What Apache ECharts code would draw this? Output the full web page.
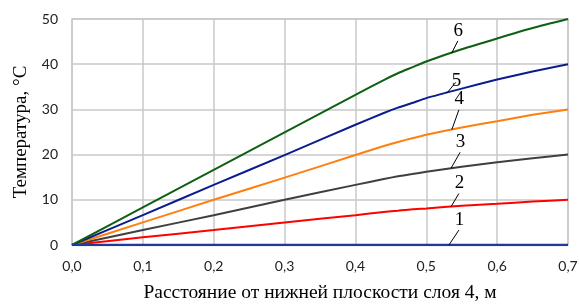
<!DOCTYPE html>
<html>
<head>
<meta charset="utf-8">
<script src="https://cdn.jsdelivr.net/npm/echarts@6/dist/echarts.min.js"></script>
<style>
  html, body { margin: 0; padding: 0; background: #fff; }
  #chart { width: 579px; height: 304px; }
</style>
</head>
<body>
<div id="chart"></div>
<script>
// distance from lower plane of layer 4, m
const xs = [0, 0.1, 0.2, 0.3, 0.4, 0.44, 0.46, 0.48, 0.5, 0.55, 0.6, 0.65, 0.7];
const curve1 = [0, 0, 0, 0, 0, 0, 0, 0, 0, 0, 0, 0, 0];
const curve2 = [0, 1.7, 3.3, 5.0, 6.6, 7.3, 7.6, 7.9, 8.1, 8.7, 9.1, 9.6, 10];
const curve3 = [0, 3.3, 6.6, 10.0, 13.3, 14.6, 15.2, 15.7, 16.2, 17.3, 18.3, 19.2, 20];
const curve4 = [0, 5.0, 10.0, 14.9, 19.9, 21.9, 22.8, 23.6, 24.4, 26.0, 27.4, 28.8, 30];
const curve5 = [0, 6.6, 13.3, 19.9, 26.6, 29.2, 30.4, 31.4, 32.5, 34.6, 36.6, 38.4, 40];
const curve6 = [0, 8.3, 16.6, 24.9, 33.2, 36.5, 38.0, 39.3, 40.6, 43.3, 45.7, 48.0, 50];
const names = ['1', '2', '3', '4', '5', '6'];
const colors = ['#1f3a9a', '#ff0000', '#3f3f3f', '#ff7f0e', '#0b1c8c', '#0f5f12'];
// leader start (on curve) for each number label
const tipX = [0.532, 0.535, 0.535, 0.536, 0.529, 0.536];
const tipY = [0, 8.5, 17.0, 25.5, 33.6, 42.5];

const curves = [curve1, curve2, curve3, curve4, curve5, curve6];
const leaderDx = [0.014, 0.011, 0.0127, 0.010, 0.0127, 0.0085];
const leaderDy = [3.3, 2.9, 3.5, 4.4, 2.4, 2.65];

const chart = echarts.init(document.getElementById('chart'));
chart.setOption({
  animation: false,
  grid: { left: 72, right: 11, top: 19, bottom: 59, show: true, borderColor: '#c8c8c8', borderWidth: 1.5,
    outerBoundsMode: 'none' },
  xAxis: {
    type: 'value', min: 0, max: 0.7, interval: 0.1,
    name: 'Расстояние от нижней плоскости слоя 4, м',
    nameLocation: 'middle', nameGap: 38,
    nameTextStyle: { fontFamily: 'Liberation Serif', fontSize: 19.5, color: '#000' },
    axisLine: { show: false }, axisTick: { show: false },
    axisLabel: { fontFamily: 'Lato', fontSize: 14, color: '#222', margin: 14,
      formatter: v => v.toFixed(1).replace('.', ',') },
    splitLine: { lineStyle: { color: '#c8c8c8', width: 1.5 } }
  },
  yAxis: {
    type: 'value', min: 0, max: 50, interval: 10,
    name: 'Температура, °С',
    nameLocation: 'middle', nameGap: 40,
    nameTextStyle: { fontFamily: 'Liberation Serif', fontSize: 19, color: '#000' },
    axisLine: { show: false }, axisTick: { show: false },
    axisLabel: { fontFamily: 'Lato', fontSize: 14, color: '#222', margin: 14 },
    splitLine: { lineStyle: { color: '#c8c8c8', width: 1.5 } }
  },
  series: curves.map((c, i) => ({
    name: names[i],
    type: 'line',
    data: xs.map((x, j) => [x, c[j]]),
    symbol: 'none',
    smooth: 0.2,
    lineStyle: { color: colors[i], width: i === 0 ? 2.5 : 2 },
    z: i === 0 ? 3 : 2,
    markLine: {
      silent: true,
      symbol: 'none',
      lineStyle: { color: '#000', width: 1, type: 'solid' },
      label: { show: true, position: 'end', formatter: names[i], fontFamily: 'Liberation Serif',
        fontSize: 19, color: '#000', distance: 1 },
      data: [[
        { coord: [tipX[i], tipY[i]] },
        { coord: [tipX[i] + leaderDx[i], tipY[i] + leaderDy[i]] }
      ]]
    }
  }))
});
</script>
</body>
</html>
